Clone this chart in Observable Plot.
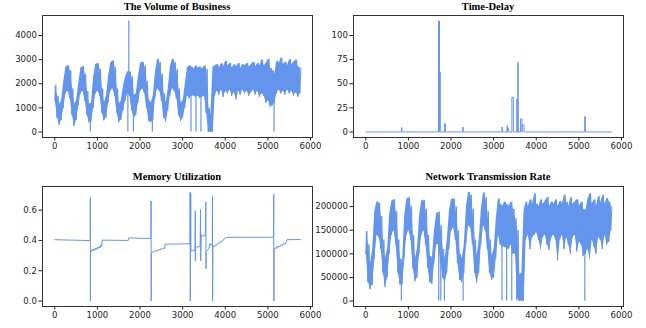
<!DOCTYPE html>
<html><head><meta charset="utf-8">
<script src="https://cdn.jsdelivr.net/npm/d3@7"></script>
<script src="https://cdn.jsdelivr.net/npm/@observablehq/plot@0.6"></script>
<style>
body{margin:0;background:#fff;}
#wrap{position:relative;width:646px;height:328px;overflow:hidden;background:#fff;}
.panel{position:absolute;}
.title{position:absolute;font-family:"Liberation Serif","Times New Roman",serif;font-weight:bold;font-size:10.5px;line-height:12px;color:#000;white-space:nowrap;transform:translateX(-50%);}
</style></head><body><div id="wrap"></div>
<script>
// ---------- data ----------
const titles = ["The Volume of Business", "Time-Delay", "Memory Utilization", "Network Transmission Rate"];
const xTicks = [0, 1000, 2000, 3000, 4000, 5000, 6000];
const binStep = 50; // time units per envelope sample

// Volume of business: low / high envelope per 50-step bin, t = 0..5750
const volLo = [1300,600,300,500,1000,1600,1700,1400,700,250,
  500,1100,1600,1700,1300,700,400,450,1000,1600,
  1700,1500,800,480,600,1200,1700,1800,1500,800,
  410,500,900,1300,1600,1500,900,550,700,1200,
  1700,1800,1600,1000,450,400,500,1400,1800,1700,
  1300,600,440,900,1500,1800,1700,1400,700,450,
  600,1000,1500,1400,1500,1500,1450,1500,1400,1450,
  1500,800,0,0,0,1500,1700,1550,1750,1450,
  1700,1600,1750,1500,1650,1350,1700,1550,1750,1600,
  1700,1500,1650,1750,1550,1700,1450,1600,1500,1200,
  1300,1050,1100,1200,1600,1750,1600,1700,1550,1750,
  1600,1700,1500,1650,1450,1600];
const volHi = [1950,1500,1150,1300,2100,2700,2750,2550,1800,1150,
  1300,2000,2650,2720,2400,1700,1150,1200,2300,2800,
  2850,2600,1800,1200,1500,2300,2850,2960,2700,1800,
  1150,1300,1900,2300,2500,2500,2300,1500,1600,2300,
  2850,2900,2750,2100,1300,1200,1500,2500,3030,2900,
  2400,1600,1200,1800,2700,3030,2900,2600,1800,1200,
  1300,2000,2650,2750,2700,2600,2750,2650,2700,2600,
  2750,2600,1000,700,2700,2750,2800,2650,2850,2700,
  2950,2750,2850,2650,2800,2700,2850,2650,2800,2750,
  2850,2700,2800,2900,2700,2850,2750,3000,2750,2850,
  3030,2650,2550,2400,2950,2850,3075,2800,2900,2750,
  3030,2800,2900,2990,2700,2650];
// narrow excursions of the volume series: time, from, to
const volSpikeT  = [834, 1715, 1737, 1845, 2290, 3196, 3313, 3430, 5145];
const volSpikeLo = [0, 0, 1800, 0, 0, 0, 0, 0, 0];
const volSpikeHi = [800, 2000, 4600, 1200, 1000, 2000, 2000, 2000, 1800];

// Network transmission rate: low / high envelope per 50-step bin
const netLo = [100000,40000,25000,35000,90000,140000,135000,110000,60000,30000,
  50000,100000,140000,150000,120000,60000,35000,35000,90000,140000,
  150000,130000,70000,42000,50000,100000,140000,150000,120000,70000,
  40000,36000,80000,120000,120000,80000,50000,40000,60000,110000,
  150000,155000,130000,80000,45000,40000,60000,120000,160000,155000,
  120000,60000,38000,60000,120000,160000,150000,110000,60000,45000,
  50000,90000,140000,120000,115000,115000,110000,110000,120000,100000,
  100000,5000,0,0,0,130000,140000,110000,135000,140000,
  145000,130000,110000,135000,140000,120000,108000,135000,140000,130000,
  86000,130000,140000,110000,135000,120000,100000,135000,140000,105000,
  125000,120000,95000,100000,110000,90000,130000,115000,100000,135000,
  130000,110000,140000,120000,125000,150000];
const netHi = [148000,120000,80000,110000,190000,210000,208000,180000,130000,90000,
  110000,185000,212000,215000,190000,130000,90000,80000,180000,215000,
  220000,200000,140000,90000,110000,180000,212000,214000,195000,140000,
  95000,90000,150000,185000,189000,160000,110000,90000,130000,190000,
  215000,217000,200000,150000,100000,90000,120000,200000,231000,225000,
  195000,130000,95000,130000,195000,230000,220000,190000,130000,95000,
  110000,175000,217000,205000,200000,210000,205000,200000,210000,195000,
  175000,150000,55000,60000,190000,210000,200000,215000,205000,228000,
  205000,200000,215000,205000,212000,220000,200000,210000,205000,215000,
  200000,212000,205000,225000,210000,200000,220000,205000,210000,215000,
  200000,210000,195000,190000,215000,228000,205000,215000,200000,222000,
  208000,225000,205000,218000,210000,200000];
// narrow drops of the network series: time, from, to
const netSpikeT  = [835, 1712, 1760, 1845, 2285, 3196, 3305, 3425, 3545, 5140];
const netSpikeLo = [0, 0, 0, 0, 0, 0, 0, 0, 0, 0];
const netSpikeHi = [50000, 150000, 120000, 80000, 80000, 150000, 150000, 150000, 140000, 150000];

// Time delay: zero baseline with spikes [start, end, value]
const delayStart = [838, 1705, 1740, 1845, 2278, 3196, 3312, 3334, 3428, 3545, 3568, 3632, 3670, 5136];
const delayEnd   = [848, 1730, 1746, 1868, 2286, 3202, 3328, 3340, 3462, 3552, 3576, 3664, 3712, 5152];
const delayValue = [4.5, 115, 62, 8.5, 5, 5, 6.3, 4, 36, 34, 72, 13.5, 7.3, 16];
const delayLast = 5759;

// Memory utilization: sampled points
const memT = [0,400,820,832,834,836,838,860,880,900,920,940,960,980,1000,1020,1040,1060,1080,1100,1105,1110,
  1700,1725,1730,1780,2000,2255,2260,2263,2266,2290,2320,2350,2380,2410,2440,2470,2500,2530,2560,2580,2585,
  3155,3172,3175,3180,3190,3195,3200,3290,3296,3299,3305,3410,3420,3423,3430,3440,3460,3530,3545,3548,3555,
  3600,3620,3640,3660,3695,3700,3703,3710,3740,3760,3790,3820,3850,3880,3910,3940,3970,4000,4040,4500,5130,
  5138,5142,5146,5170,5190,5210,5230,5260,5280,5310,5340,5370,5400,5430,5450,5759];
const memV = [0.405,0.402,0.399,0.399,0.683,0.0,0.33,0.325,0.34,0.33,0.345,0.335,0.35,0.34,0.355,0.345,0.36,0.35,0.37,0.36,0.37,0.402,
  0.400,0.400,0.415,0.417,0.414,0.413,0.661,0.0,0.316,0.32,0.33,0.322,0.335,0.328,0.342,0.335,0.348,0.34,0.352,0.345,0.375,
  0.378,0.378,0.72,0.0,0.71,0.33,0.33,0.335,0.593,0.266,0.355,0.36,0.604,0.266,0.36,0.44,0.43,0.43,0.654,0.214,0.33,
  0.34,0.35,0.38,0.37,0.37,0.694,0.0,0.36,0.358,0.37,0.365,0.38,0.378,0.392,0.388,0.402,0.405,0.418,0.42,0.421,0.421,
  0.705,0.0,0.345,0.35,0.345,0.36,0.352,0.365,0.358,0.372,0.366,0.38,0.375,0.39,0.405,0.406];

// ---------- tables built from the arrays ----------
function zigzag(lo, hi) {
  const rows = [];
  lo.forEach((l, i) => {
    rows.push({t: i * binStep, v: l});
    rows.push({t: i * binStep + binStep / 2, v: hi[i]});
  });
  return rows;
}
function band(lo, hi) {
  return lo.map((l, i) => ({t: i * binStep + binStep / 4, lo: l, hi: hi[i]}));
}
function spikes(ts, los, his) {
  return ts.map((t, i) => ({t, lo: los[i], hi: his[i]}));
}
const volLine = zigzag(volLo, volHi), volBand = band(volLo, volHi), volSpikes = spikes(volSpikeT, volSpikeLo, volSpikeHi);
const netLine = zigzag(netLo, netHi), netBand = band(netLo, netHi), netSpikes = spikes(netSpikeT, netSpikeLo, netSpikeHi);
const delayData = [{t: 0, v: 0}];
delayStart.forEach((s, i) => {
  delayData.push({t: s, v: 0}, {t: s, v: delayValue[i]}, {t: delayEnd[i], v: delayValue[i]}, {t: delayEnd[i], v: 0});
});
delayData.push({t: delayLast, v: 0});
const memData = memT.map((t, i) => ({t, v: memV[i]}));

// ---------- drawing ----------
const wrap = document.getElementById("wrap");
const LINE = "#6495ED";
function seriesMarks(line, bandRows, spikeRows) {
  const m = [];
  if (bandRows) m.push(Plot.areaY(bandRows, {x: "t", y1: "lo", y2: "hi", fill: LINE}));
  m.push(Plot.line(line, {x: "t", y: "v", stroke: LINE, strokeWidth: 1}));
  if (spikeRows) m.push(Plot.ruleX(spikeRows, {x: "t", y1: "lo", y2: "hi", stroke: LINE, strokeWidth: 1.2}));
  return m;
}
function panel(o) {
  const svg = Plot.plot({
    width: o.width, height: o.height,
    marginLeft: o.ml, marginRight: o.mr, marginTop: o.mt, marginBottom: o.mb,
    x: {domain: [-288, 6047]},
    y: {domain: o.yDomain},
    style: {fontFamily: "DejaVu Sans, sans-serif", fontSize: "8.6px", color: "#222", background: "transparent", overflow: "visible"},
    marks: [
      ...o.marks,
      Plot.frame({stroke: "#333", strokeWidth: 1}),
      Plot.axisX({ticks: xTicks, tickSize: 3.5, tickPadding: 2, label: null, tickFormat: d3.format("d")}),
      Plot.axisY({ticks: o.yTicks, tickSize: 3.5, tickPadding: 2, label: null, tickFormat: o.yFormat})
    ]
  });
  const div = document.createElement("div");
  div.className = "panel";
  div.style.left = o.left + "px"; div.style.top = o.top + "px";
  div.style.width = o.width + "px"; div.style.height = o.height + "px";
  div.appendChild(svg);
  wrap.appendChild(div);
  const t = document.createElement("div");
  t.className = "title";
  t.textContent = o.title;
  t.style.left = (o.left + o.ml + (o.width - o.ml - o.mr) / 2) + "px";
  t.style.top = o.titleTop + "px";
  wrap.appendChild(t);
}
panel({title: titles[0], left: 0, top: 0, width: 323, height: 164, ml: 42, mr: 11, mt: 15, mb: 27,
  yDomain: [-230, 4830], yTicks: [0, 1000, 2000, 3000, 4000], yFormat: d3.format("d"),
  marks: seriesMarks(volLine, volBand, volSpikes), titleTop: 1});
panel({title: titles[1], left: 300, top: 0, width: 346, height: 164, ml: 53, mr: 23, mt: 15, mb: 27,
  yDomain: [-5.75, 120.75], yTicks: [0, 25, 50, 75, 100], yFormat: d3.format("d"),
  marks: seriesMarks(delayData), titleTop: 1});
panel({title: titles[2], left: 0, top: 164, width: 323, height: 164, ml: 42, mr: 11, mt: 22, mb: 22,
  yDomain: [-0.036, 0.756], yTicks: [0, 0.2, 0.4, 0.6], yFormat: d3.format(".1f"),
  marks: seriesMarks(memData), titleTop: 171});
panel({title: titles[3], left: 300, top: 164, width: 346, height: 164, ml: 53, mr: 23, mt: 22, mb: 22,
  yDomain: [-11550, 242550], yTicks: [0, 50000, 100000, 150000, 200000], yFormat: d3.format("d"),
  marks: seriesMarks(netLine, netBand, netSpikes), titleTop: 171});
</script>
</body></html>
